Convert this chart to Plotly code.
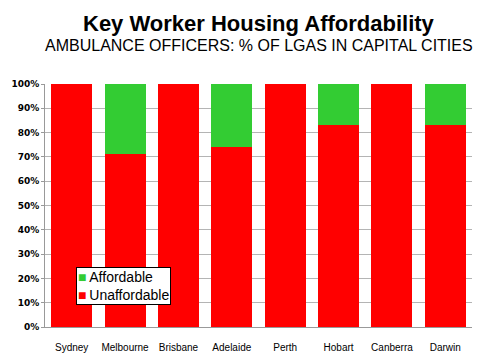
import plotly.graph_objects as go

cities = ["Sydney", "Melbourne", "Brisbane", "Adelaide", "Perth", "Hobart", "Canberra", "Darwin"]
unaffordable = [100, 71, 100, 74, 100, 83, 100, 83]
affordable = [0, 29, 0, 26, 0, 17, 0, 17]
y_ticks = [0, 10, 20, 30, 40, 50, 60, 70, 80, 90, 100]

RED = "#FF0000"
GREEN = "#33CC33"

fig = go.Figure()
fig.add_trace(go.Bar(x=cities, y=unaffordable, name="Unaffordable",
                     marker=dict(color=RED, line=dict(width=0))))
fig.add_trace(go.Bar(x=cities, y=affordable, name="Affordable",
                     marker=dict(color=GREEN, line=dict(width=0))))

fig.update_layout(
    barmode="stack",
    bargap=0.23,
    width=480, height=360,
    margin=dict(l=45, r=8, t=84, b=33, autoexpand=False),
    paper_bgcolor="white", plot_bgcolor="white",
    showlegend=False,
)
fig.add_annotation(text="<b>Key Worker Housing Affordability</b>", xref="paper", yref="paper",
                   x=0.5, y=1, yshift=61, xanchor="center", yanchor="middle", showarrow=False,
                   font=dict(family="Liberation Sans, Arial", size=22, color="black"))
fig.add_annotation(text="AMBULANCE OFFICERS: % OF LGAS IN CAPITAL CITIES", xref="paper", yref="paper",
                   x=0.5, y=1, yshift=39, xanchor="center", yanchor="middle", showarrow=False,
                   font=dict(family="Liberation Sans, Arial", size=16, color="black"))
# legend box
fig.add_annotation(
    text=(f"<span style='color:{GREEN};font-size:14px'>■</span>\u2009Affordable<br>"
          f"<span style='color:{RED};font-size:14px'>■</span>\u2009Unaffordable"),
    xref="paper", yref="paper", x=0.0726, y=0.247, xanchor="left", yanchor="top",
    align="left", showarrow=False, bgcolor="white", bordercolor="black", borderwidth=1,
    borderpad=1, font=dict(family="Liberation Sans, Arial", size=14, color="black"))

fig.update_xaxes(showline=True, linecolor="#999999", linewidth=1, ticks="", automargin=False,
                 tickfont=dict(family="Liberation Sans, Arial", size=10, color="black"),
                 ticklabelstandoff=11)
fig.update_yaxes(range=[0, 100], tickvals=y_ticks, ticktext=[f"<b>{v}%</b>" for v in y_ticks],
                 showgrid=True, gridcolor="#B4B4B4", gridwidth=1, automargin=False,
                 showline=True, linecolor="#999999", linewidth=1,
                 ticks="outside", ticklen=3, tickcolor="#999999",
                 tickfont=dict(family="Verdana, DejaVu Sans", size=9, color="black"),
                 zeroline=False)

fig.write_html("out.html", config={"displayModeBar": False},
               post_script="document.body.style.margin='0';")
